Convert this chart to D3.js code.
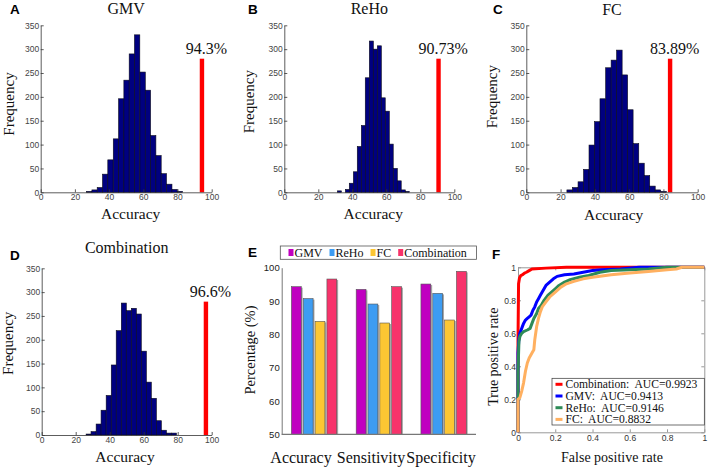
<!DOCTYPE html>
<html><head><meta charset="utf-8">
<script src="https://cdn.jsdelivr.net/npm/d3@7"></script>
<style>body{margin:0;background:#fff}svg{display:block}</style>
</head><body>
<svg id="c" width="708" height="469"></svg>
<script>
// ---------------- data ----------------
const histTitles = ["GMV", "ReHo", "FC", "Combination"];
const histXTicks = [0, 20, 40, 60, 80, 100];
const histYTicks = [0, 50, 100, 150, 200, 250, 300, 350];

const gmvBinCenters = [28.4, 31.5, 34.6, 37.7, 40.8, 44.0, 47.1, 50.2, 53.3, 56.4, 59.6, 62.7, 65.8, 68.9, 72.0, 75.2, 78.3, 81.4];
const gmvCounts     = [2, 5, 10, 38, 68, 112, 196, 235, 290, 330, 252, 214, 119, 77, 39, 17, 6, 2];
const gmvBinWidth = 3.12;

const rehoBinCenters = [32.4, 34.7, 37.1, 39.4, 41.8, 44.1, 46.5, 48.8, 51.2, 53.5, 55.9, 58.2, 60.6, 62.9, 65.3, 67.6, 70.0, 72.3];
const rehoCounts     = [3, 0, 6, 19, 43, 96, 140, 240, 317, 300, 307, 198, 170, 101, 50, 24, 5, 2];
const rehoBinWidth = 2.35;

const fcBinCenters = [25.3, 28.5, 31.8, 35.0, 38.2, 41.4, 44.6, 47.9, 51.1, 54.3, 57.5, 60.7, 64.0, 67.2, 70.4, 73.6, 76.8, 80.1];
const fcCounts     = [5, 10, 22, 48, 99, 148, 196, 261, 277, 298, 246, 173, 102, 61, 35, 13, 5, 2];
const fcBinWidth = 3.22;

const combBinCenters = [27.6, 30.5, 33.5, 36.4, 39.4, 42.4, 45.3, 48.3, 51.2, 54.2, 57.1, 60.1, 63.0, 66.0, 68.9, 71.9, 74.8, 77.8];
const combCounts     = [2, 7, 23, 52, 83, 147, 219, 277, 261, 266, 254, 176, 111, 77, 30, 10, 4, 4];
const combBinWidth = 2.95;

const trueAccuracy = [94.3, 90.73, 83.89, 96.6];
const trueAccLabels = ["94.3%", "90.73%", "83.89%", "96.6%"];
const trueAccBarFreq = 280;

const metrics = ["Accuracy", "Sensitivity", "Specificity"];
const featureSets = ["GMV", "ReHo", "FC", "Combination"];
const gmvMetric  = [94.3, 93.5, 95.1];
const rehoMetric = [90.73, 89.1, 92.3];
const fcMetric   = [83.89, 83.4, 84.3];
const combMetric = [96.6, 94.3, 98.9];
const percentTicks = [50, 60, 70, 80, 90, 100];

const rocCombination = [[0,0],[0,0.55],[0.003,0.9],[0.008,0.935],[0.015,0.95],[0.025,0.955],[0.035,0.965],[0.045,0.97],[0.06,0.98],[0.075,0.99],[0.15,0.995],[0.26,1],[1,1]];
const rocGMV = [[0,0],[0,0.48],[0.005,0.57],[0.01,0.6],[0.02,0.63],[0.03,0.66],[0.04,0.68],[0.05,0.69],[0.06,0.70],[0.07,0.71],[0.08,0.74],[0.09,0.76],[0.1,0.79],[0.11,0.81],[0.12,0.83],[0.13,0.85],[0.14,0.87],[0.15,0.89],[0.17,0.91],[0.19,0.93],[0.21,0.945],[0.25,0.955],[0.3,0.96],[0.35,0.97],[0.4,0.98],[0.45,0.985],[0.55,0.99],[0.65,1],[1,1]];
const rocReHo = [[0,0],[0,0.37],[0.005,0.55],[0.01,0.58],[0.02,0.6],[0.03,0.61],[0.05,0.62],[0.065,0.63],[0.075,0.66],[0.085,0.69],[0.1,0.72],[0.11,0.75],[0.125,0.77],[0.14,0.8],[0.16,0.83],[0.18,0.85],[0.2,0.87],[0.22,0.89],[0.25,0.91],[0.28,0.925],[0.33,0.94],[0.38,0.95],[0.44,0.97],[0.5,0.98],[0.6,0.985],[0.7,0.99],[0.8,1],[1,1]];
const rocFC = [[0,0],[0,0.2],[0.01,0.21],[0.02,0.25],[0.03,0.3],[0.04,0.37],[0.05,0.42],[0.06,0.45],[0.075,0.48],[0.085,0.5],[0.09,0.56],[0.095,0.6],[0.1,0.64],[0.11,0.69],[0.12,0.73],[0.13,0.76],[0.15,0.79],[0.17,0.82],[0.2,0.85],[0.23,0.88],[0.26,0.9],[0.3,0.915],[0.35,0.93],[0.4,0.94],[0.5,0.955],[0.6,0.965],[0.7,0.975],[0.8,0.985],[0.85,0.99],[0.88,1],[1,1]];
const rocLabels = ["Combination:\u00a0 AUC=0.9923", "GMV:\u00a0 AUC=0.9413", "ReHo:\u00a0 AUC=0.9146", "FC:\u00a0 AUC=0.8832"];
const rocTicks = [0, 0.2, 0.4, 0.6, 0.8, 1];

// ---------------- drawing ----------------
const svg = d3.select("#c");
const SERIF = "'Liberation Serif','Times New Roman',serif";
const SANS = "'Liberation Sans',Arial,sans-serif";

function text(x, y, s, size, opts = {}) {
  const t = svg.append("text").attr("x", x).attr("y", y).text(s)
    .attr("font-family", opts.family || SERIF).attr("font-size", size)
    .attr("fill", opts.fill || "#111")
    .attr("text-anchor", opts.anchor || "middle");
  if (opts.bold) t.attr("font-weight", "bold");
  if (opts.rotate) t.attr("transform", `rotate(-90,${x},${y})`);
  return t;
}

// panel letters
[["A",10,13.5],["B",248,13.5],["C",493,14],["D",10,259.5],["E",248,257],["F",492,258.5]].forEach(([s,x,y]) =>
  text(x, y, s, 13.5, {family: SANS, bold: true, anchor: "start", fill: "#000"}));

function histPanel(cfg) {
  const x = d3.scaleLinear().domain([0, 100]).range([cfg.x0, cfg.x1]);
  const y = d3.scaleLinear().domain([0, 350]).range([cfg.y0, cfg.y1]);
  const g = svg.append("g");
  const data = cfg.centers.map((c, i) => ({c, n: cfg.counts[i]}));
  g.selectAll("rect.bin").data(data).join("rect").attr("class", "bin")
    .attr("x", d => x(d.c - cfg.bw / 2))
    .attr("width", d => x(d.c + cfg.bw / 2) - x(d.c - cfg.bw / 2))
    .attr("y", d => y(d.n)).attr("height", d => y(0) - y(d.n))
    .attr("fill", "#000080").attr("stroke", "#0a0a1a").attr("stroke-width", 0.6);
  // true accuracy bar
  const w = 4.4;
  g.append("rect").attr("x", x(cfg.acc) - w / 2).attr("width", w)
    .attr("y", y(trueAccBarFreq)).attr("height", y(0) - y(trueAccBarFreq)).attr("fill", "#ff0000");
  text(x(cfg.acc) + 4.5, y(trueAccBarFreq) - 4.5, cfg.accLabel, 16);
  // axes
  const xa = g.append("g").attr("transform", `translate(0,${cfg.y0})`)
    .call(d3.axisBottom(x).tickValues(histXTicks).tickSize(-3).tickSizeOuter(0).tickPadding(2));
  const ya = g.append("g").attr("transform", `translate(${cfg.x0},0)`)
    .call(d3.axisLeft(y).tickValues(histYTicks).tickSize(-3).tickSizeOuter(0).tickPadding(1.5));
  [xa, ya].forEach(a => {
    a.selectAll("path,line").attr("stroke", "#333").attr("stroke-width", 0.8);
    a.selectAll("text").attr("font-family", SANS).attr("font-size", 8.5).attr("fill", "#444");
  });
  text((cfg.x0 + cfg.x1) / 2, cfg.titleY, cfg.title, 16);
  text(cfg.accX, cfg.accY, "Accuracy", 15.5);
  text(cfg.freqX, cfg.freqY, "Frequency", 15, {rotate: true});
}

histPanel({x0: 40.7, x1: 211.7, y0: 192.3, y1: 25.3, centers: gmvBinCenters, counts: gmvCounts, bw: gmvBinWidth,
  acc: trueAccuracy[0], accLabel: trueAccLabels[0], title: histTitles[0], titleY: 13.5,
  accX: 130.7, accY: 219, freqX: 14, freqY: 104});
histPanel({x0: 284.3, x1: 454.3, y0: 192.3, y1: 25.3, centers: rehoBinCenters, counts: rehoCounts, bw: rehoBinWidth,
  acc: trueAccuracy[1], accLabel: trueAccLabels[1], title: histTitles[1], titleY: 13.5,
  accX: 373.3, accY: 219, freqX: 254.5, freqY: 101.7});
histPanel({x0: 526.3, x1: 697.7, y0: 192.3, y1: 25.3, centers: fcBinCenters, counts: fcCounts, bw: fcBinWidth,
  acc: trueAccuracy[2], accLabel: trueAccLabels[2], title: histTitles[2], titleY: 14.5,
  accX: 613.7, accY: 220, freqX: 497.5, freqY: 96.7});
histPanel({x0: 41.7, x1: 211.7, y0: 435, y1: 268.3, centers: combBinCenters, counts: combCounts, bw: combBinWidth,
  acc: trueAccuracy[3], accLabel: trueAccLabels[3], title: histTitles[3], titleY: 253,
  accX: 125, accY: 462, freqX: 13.5, freqY: 343.3});

// ---------------- panel E ----------------
(function () {
  const left = 281.7, right = 476, bottom = 434.3, top = 267.7;
  const x0 = d3.scaleBand().domain(metrics).range([left, right]).paddingInner(0.3).paddingOuter(0.15);
  const x1 = d3.scaleBand().domain(featureSets).range([0, x0.bandwidth()]).paddingInner(0.17);
  const y = d3.scaleLinear().domain([50, 100]).range([bottom, top]);
  const colors = d3.scaleOrdinal().domain(featureSets).range(["#c000c0", "#3d9cf2", "#fcc633", "#f7336b"]);
  const series = [gmvMetric, rehoMetric, fcMetric, combMetric];
  const rows = [];
  metrics.forEach((m, i) => featureSets.forEach((f, j) => rows.push({m, f, v: series[j][i]})));
  const g = svg.append("g");
  g.selectAll("rect.sh").data(rows).join("rect")
    .attr("x", d => x0(d.m) + x1(d.f) + 1.4).attr("width", x1.bandwidth())
    .attr("y", d => y(d.v) + 1).attr("height", d => y(50) - y(d.v) - 1)
    .attr("fill", "#a8a8a8");
  g.selectAll("rect.bar").data(rows).join("rect")
    .attr("x", d => x0(d.m) + x1(d.f)).attr("width", x1.bandwidth())
    .attr("y", d => y(d.v)).attr("height", d => y(50) - y(d.v))
    .attr("fill", d => colors(d.f)).attr("stroke", "#555").attr("stroke-width", 0.6);
  const ya = g.append("g").attr("transform", `translate(${left},0)`)
    .call(d3.axisLeft(y).tickValues(percentTicks).tickSize(0).tickSizeOuter(0).tickPadding(2));
  ya.selectAll("text").attr("font-family", SANS).attr("font-size", 9.5).attr("fill", "#222");
  ya.select("path").attr("stroke", "#777");
  g.append("line").attr("x1", left).attr("x2", right).attr("y1", bottom).attr("y2", bottom).attr("stroke", "#777").attr("stroke-width", 1.2);
  const lx = d3.scalePoint().domain(metrics).range([301, 441]);
  metrics.forEach(m => text(lx(m), 463, m, 16));
  text(254.5, 350, "Percentage (%)", 14.5, {rotate: true});
  // legend
  const lg = svg.append("g");
  lg.append("rect").attr("x", 280.3).attr("y", 246).attr("width", 196.2).attr("height", 13.3)
    .attr("fill", "#fff").attr("stroke", "#555").attr("stroke-width", 0.8);
  let cx = 288.5;
  featureSets.forEach(f => {
    lg.append("rect").attr("x", cx).attr("y", 249).attr("width", 5).attr("height", 7).attr("fill", colors(f));
    const t = lg.append("text").attr("x", cx + 6).attr("y", 256.5).text(f)
      .attr("font-family", SERIF).attr("font-size", 12).attr("fill", "#111");
    cx += 6 + t.node().getComputedTextLength() + 7;
  });
})();

// ---------------- panel F ----------------
(function () {
  const left = 518, right = 704.3, bottom = 432.3, top = 267.3;
  const x = d3.scaleLinear().domain([0, 1]).range([left, right]);
  const y = d3.scaleLinear().domain([0, 1]).range([bottom, top]);
  const g = svg.append("g");
  const fmt = d => String(d);
  const xa = g.append("g").attr("transform", `translate(0,${bottom})`)
    .call(d3.axisBottom(x).tickValues(rocTicks).tickFormat(fmt).tickSize(-3).tickSizeOuter(0).tickPadding(3));
  const ya = g.append("g").attr("transform", `translate(${left},0)`)
    .call(d3.axisLeft(y).tickValues(rocTicks).tickFormat(fmt).tickSize(-3).tickSizeOuter(0).tickPadding(2));
  const xt = g.append("g").attr("transform", `translate(0,${top})`)
    .call(d3.axisTop(x).tickValues(rocTicks).tickFormat("").tickSize(-3).tickSizeOuter(0));
  const yr = g.append("g").attr("transform", `translate(${right},0)`)
    .call(d3.axisRight(y).tickValues(rocTicks).tickFormat("").tickSize(-3).tickSizeOuter(0));
  [xa, ya, xt, yr].forEach(a => {
    a.selectAll("path,line").attr("stroke", "#999").attr("stroke-width", 1);
    a.selectAll("text").attr("font-family", SANS).attr("font-size", 8.5).attr("fill", "#333");
  });
  const line = d3.line().x(d => x(d[0])).y(d => y(d[1]));
  const curves = [[rocCombination, "#ff0000"], [rocGMV, "#0000ff"], [rocReHo, "#2e8b57"], [rocFC, "#ffb060"]];
  curves.forEach(([d, c]) => g.append("path").attr("d", line(d)).attr("fill", "none")
    .attr("stroke", c).attr("stroke-width", 3).attr("stroke-linejoin", "round"));
  text(498, 356.7, "True positive rate", 14, {rotate: true});
  text(612, 462, "False positive rate", 14);
  // legend
  g.append("rect").attr("x", 552).attr("y", 378.3).attr("width", right - 552).attr("height", 46.7)
    .attr("fill", "#fff").attr("stroke", "#333").attr("stroke-width", 0.7);
  rocLabels.forEach((s, i) => {
    const yy = 384.3 + i * 11.7;
    g.append("line").attr("x1", 555.5).attr("x2", 562.5).attr("y1", yy).attr("y2", yy)
      .attr("stroke", curves[i][1]).attr("stroke-width", 3);
    g.append("text").attr("x", 565.5).attr("y", yy + 3.8).text(s)
      .attr("font-family", SERIF).attr("font-size", 11.6).attr("fill", "#111");
  });
})();
</script>
</body></html>
